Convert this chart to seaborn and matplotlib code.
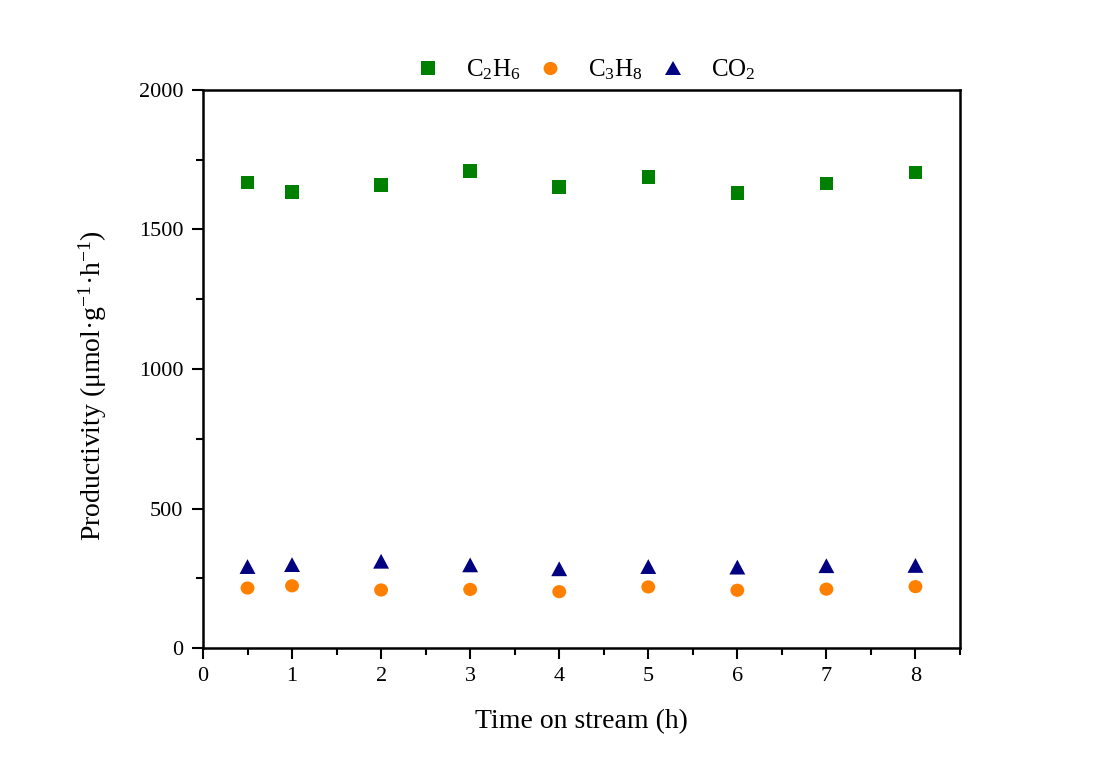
import numpy as np
import pandas as pd
import matplotlib
matplotlib.use("Agg")
import matplotlib.pyplot as plt
from matplotlib.markers import MarkerStyle
from matplotlib.transforms import Affine2D
from matplotlib.ticker import MultipleLocator
import seaborn as sns

time_h = [0.5, 1, 2, 3, 4, 5, 6, 7, 8]
c2h6 = [1669, 1634, 1659, 1710, 1653, 1688, 1631, 1665, 1705]
c3h8 = [215, 223, 208, 210, 202, 219, 207, 211, 220]
co2 = [292, 299, 311, 298, 284, 292, 290, 295, 296]
series_labels = ["C$_2$H$_6$", "C$_3$H$_8$", "CO$_2$"]
colors = ["#008000", "#FF8000", "#000080"]

df = pd.DataFrame({
    "time": time_h * 3,
    "value": c2h6 + c3h8 + co2,
    "series": [series_labels[0]] * 9 + [series_labels[1]] * 9 + [series_labels[2]] * 9,
})

sns.set_style("ticks")
plt.rcParams["font.family"] = ["Liberation Serif", "DejaVu Serif"]
plt.rcParams["mathtext.fontset"] = "custom"
plt.rcParams["mathtext.rm"] = "Liberation Serif"
plt.rcParams["mathtext.it"] = "Liberation Serif:italic"
plt.rcParams["text.color"] = "black"
plt.rcParams["axes.labelcolor"] = "black"
plt.rcParams["xtick.color"] = "black"
plt.rcParams["ytick.color"] = "black"
plt.rcParams["axes.edgecolor"] = "black"

fig = plt.figure(figsize=(10.99, 7.71), dpi=100)
ax = fig.add_axes([0.1847, 0.1595, 0.6888, 0.7238])

markers = {
    series_labels[0]: MarkerStyle("s"),
    series_labels[1]: MarkerStyle("o", transform=Affine2D().scale(1.03, 0.98)),
    series_labels[2]: MarkerStyle("^", transform=Affine2D().scale(1.18, 1.1)),
}

sns.scatterplot(data=df, x="time", y="value", hue="series", style="series",
                palette=dict(zip(series_labels, colors)), markers=markers,
                s=94, linewidth=0, ax=ax, legend=True)

ax.set_xlim(0, 8.5)
ax.set_ylim(0, 2000)
ax.xaxis.set_major_locator(MultipleLocator(1))
ax.xaxis.set_minor_locator(MultipleLocator(0.5))
ax.yaxis.set_major_locator(MultipleLocator(500))
ax.yaxis.set_minor_locator(MultipleLocator(250))
ax.tick_params(axis="both", which="major", direction="out", length=8, width=1.5,
               labelsize=16, pad=6, top=False, right=False)
ax.tick_params(axis="both", which="minor", direction="out", length=5, width=1.5,
               top=False, right=False)
for sp in ax.spines.values():
    sp.set_linewidth(1.8)
    sp.set_visible(True)

ax.set_xlabel("Time on stream (h)", fontsize=20, labelpad=16)
ax.set_ylabel("Productivity (μmol·g$^{-1}$·h$^{-1}$)", fontsize=20)
ax.yaxis.set_label_coords(-0.124, 0.47)

handles, labels = ax.get_legend_handles_labels()
ax.legend(handles, labels, loc="lower center", bbox_to_anchor=(0.505, 0.992), ncol=3,
          frameon=False, fontsize=18, handletextpad=1.02, columnspacing=0.7,
          handlelength=1.0, markerscale=1.0, borderaxespad=0.1)

fig.savefig("out.png", dpi=100, facecolor="white")
